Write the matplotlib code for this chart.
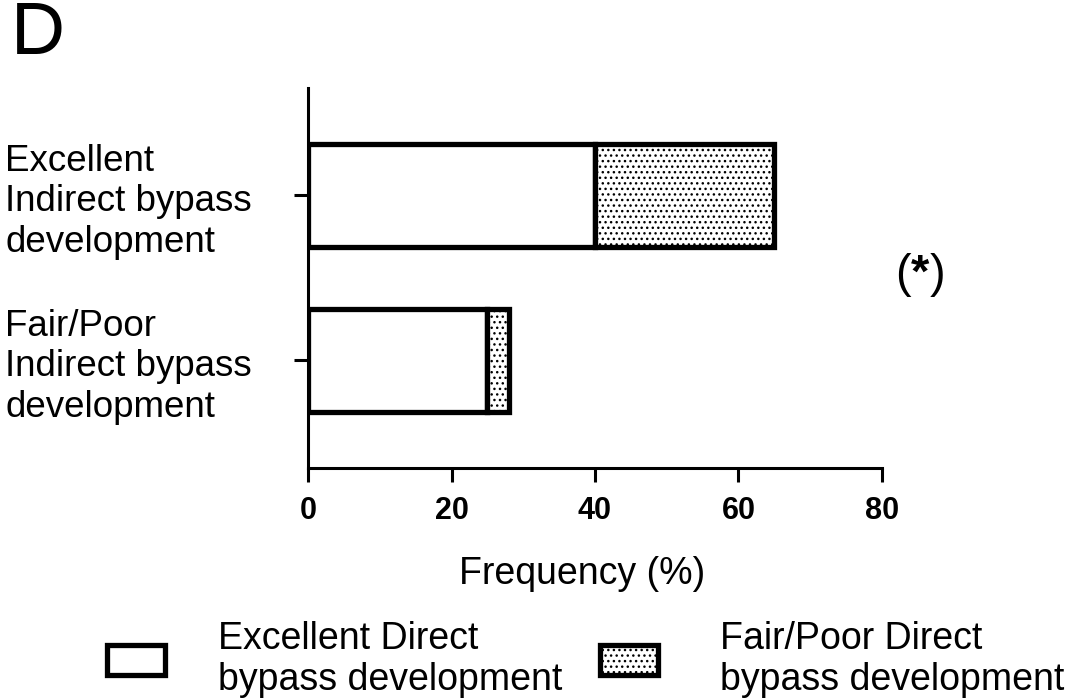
import matplotlib.pyplot as plt

plt.rcParams['font.family'] = ['Liberation Sans', 'DejaVu Sans']
plt.rcParams['hatch.linewidth'] = 1.0
plt.rcParams['mathtext.fontset'] = 'custom'
plt.rcParams['mathtext.rm'] = 'Liberation Sans'
plt.rcParams['mathtext.bf'] = 'Liberation Sans:bold'

# Data
groups = ["Fair/Poor\nIndirect bypass\ndevelopment", "Excellent\nIndirect bypass\ndevelopment"]
excellent_direct = [25, 40]
fairpoor_direct = [3, 25]
legend_labels = ["Excellent Direct\nbypass development", "Fair/Poor Direct\nbypass development"]

fig = plt.figure(figsize=(10.71, 7.0), dpi=100)
ax = fig.add_axes([0.2876, 0.3314, 0.5359, 0.5426])

ypos = [0, 1]
b1 = ax.barh(ypos, excellent_direct, height=0.624, color="white",
             edgecolor="black", linewidth=3.8, label=legend_labels[0])
b2 = ax.barh(ypos, fairpoor_direct, left=excellent_direct, height=0.624,
             color="white", edgecolor="black", linewidth=3.8, hatch="...",
             label=legend_labels[1])

ax.set_xlim(0, 80)
ax.set_ylim(-0.6545, 1.648)
ax.set_xticks([0, 20, 40, 60, 80])
ax.set_yticks(ypos)
ax.set_yticklabels(groups, fontsize=26.5, ha="left", linespacing=1.2)

for s in ["top", "right"]:
    ax.spines[s].set_visible(False)
for s in ["left", "bottom"]:
    ax.spines[s].set_linewidth(2.2)

ax.tick_params(axis="x", length=10, width=2.2, labelsize=22, pad=10)
ax.tick_params(axis="y", length=10, width=2.2, pad=208)
for t in ax.get_xticklabels():
    t.set_fontweight("bold")
    t.set_family(["Liberation Sans Narrow", "Liberation Sans", "DejaVu Sans"])

ax.set_xlabel("Frequency (%)", fontsize=27)
ax.xaxis.set_label_coords(0.477, -0.232)

# significance marker: regular parentheses, bold asterisk
ax.text(1.066, 0.508, r"($\mathbf{*}$)", transform=ax.transAxes, fontsize=34,
        ha="center", va="center")

fig.text(0.010, 1.0, "D", fontsize=54, va="top", ha="left")

fig.legend(handles=[b1], labels=[legend_labels[0]], loc="center left",
           bbox_to_anchor=(107 / 1071, 0.058), frameon=False, fontsize=27,
           handlelength=1.55, handleheight=0.85, handletextpad=1.41,
           borderpad=0, borderaxespad=0)
fig.legend(handles=[b2], labels=[legend_labels[1]], loc="center left",
           bbox_to_anchor=(600 / 1071, 0.058), frameon=False, fontsize=27,
           handlelength=1.55, handleheight=0.85, handletextpad=1.65,
           borderpad=0, borderaxespad=0)

plt.savefig("out.png", dpi=100)
